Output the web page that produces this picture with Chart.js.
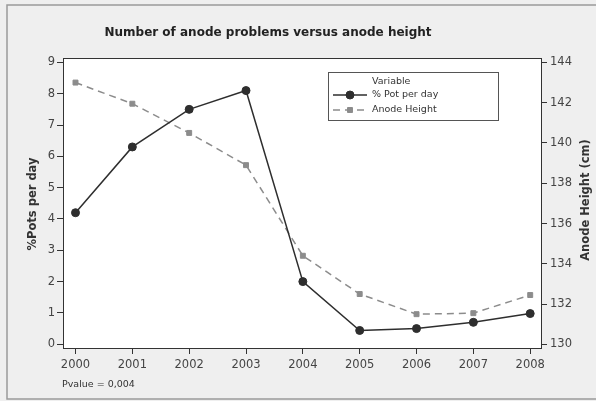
<!DOCTYPE html>
<html>
<head>
<meta charset="utf-8">
<script src="https://cdn.jsdelivr.net/npm/chart.js@4.4.1/dist/chart.umd.min.js"></script>
<style>
  body { margin: 0; background: #fff; }
  #grafico { display: block; }
</style>
</head>
<body>
<canvas id="grafico" width="596" height="401"></canvas>
<script>
// datos
const anios = [2000, 2001, 2002, 2003, 2004, 2005, 2006, 2007, 2008];
const potPorDia = [4.2, 6.3, 7.5, 8.1, 2.0, 0.44, 0.5, 0.7, 0.98];
const alturaAnodo = [143.0, 141.95, 140.5, 138.9, 134.4, 132.5, 131.5, 131.55, 132.45];
const ticksIzq = [0, 1, 2, 3, 4, 5, 6, 7, 8, 9];
const ticksDer = [130, 132, 134, 136, 138, 140, 142, 144];

const tituloTxt = 'Number of anode problems versus anode height';
const pvalueTxt = 'Pvalue = 0,004';

const fuente = 'DejaVu Sans';

// marco, titulo, leyenda y textos de ejes
const decorado = {
  id: 'decorado',
  beforeDraw(chart) {
    const ctx = chart.ctx;
    const a = chart.chartArea;
    ctx.save();
    ctx.fillStyle = '#efefef';
    ctx.fillRect(0, 0, chart.width, chart.height);
    ctx.strokeStyle = '#9a9a9a';
    ctx.lineWidth = 1.5;
    ctx.strokeRect(7, 5, 600, 394);
    ctx.fillStyle = '#ffffff';
    ctx.fillRect(a.left, a.top, a.right - a.left, a.bottom - a.top);
    ctx.restore();
  },
  afterDraw(chart) {
    const ctx = chart.ctx;
    const a = chart.chartArea;
    ctx.save();
    ctx.strokeStyle = '#333';
    ctx.lineWidth = 1;
    ctx.strokeRect(a.left + 0.5, a.top + 0.5, a.right - a.left, a.bottom - a.top);

    ctx.fillStyle = '#222';
    ctx.font = 'bold 12px ' + fuente;
    ctx.textAlign = 'center';
    ctx.textBaseline = 'middle';
    ctx.fillText(tituloTxt, 268, 33);

    // titulos de ejes
    ctx.font = 'bold 11.5px ' + fuente;
    ctx.fillStyle = '#333';
    ctx.save();
    ctx.translate(33, 204);
    ctx.rotate(-Math.PI / 2);
    ctx.fillText('%Pots per day', 0, 0);
    ctx.restore();
    ctx.save();
    ctx.translate(586, 200);
    ctx.rotate(-Math.PI / 2);
    ctx.fillText('Anode Height (cm)', 0, 0);
    ctx.restore();

    // pvalue
    ctx.font = '9.5px ' + fuente;
    ctx.textAlign = 'left';
    ctx.fillStyle = '#333';
    ctx.fillText(pvalueTxt, 62, 385);

    // leyenda
    ctx.fillStyle = '#fff';
    ctx.fillRect(328, 72, 170, 48);
    ctx.strokeStyle = '#555';
    ctx.lineWidth = 1;
    ctx.strokeRect(328.5, 72.5, 170, 48);
    ctx.fillStyle = '#333';
    ctx.font = '9.5px ' + fuente;
    ctx.fillText('Variable', 372, 82);
    const ds = chart.data.datasets;
    const filas = [95, 110];
    ds.forEach((d, i) => {
      const y = filas[i];
      ctx.save();
      ctx.strokeStyle = d.borderColor;
      ctx.lineWidth = d.borderWidth;
      ctx.setLineDash(d.borderDash || []);
      ctx.beginPath();
      ctx.moveTo(333, y);
      ctx.lineTo(367, y);
      ctx.stroke();
      ctx.restore();
      ctx.fillStyle = d.pointBackgroundColor;
      ctx.strokeStyle = d.pointBorderColor;
      Chart.helpers.drawPoint(ctx, {
        pointStyle: d.pointStyle,
        radius: d.pointRadius,
        borderWidth: 1
      }, 350, y);
      ctx.fillStyle = '#333';
      ctx.fillText(d.label, 372, y);
    });
    ctx.restore();
  }
};

const ejeTicks = {
  color: '#444',
  font: { family: fuente, size: 11.5 }
};

new Chart(document.getElementById('grafico'), {
  type: 'line',
  data: {
    datasets: [
      {
        label: '% Pot per day',
        data: anios.map((x, i) => ({ x: x, y: potPorDia[i] })),
        yAxisID: 'y',
        borderColor: '#2e2e2e',
        borderWidth: 1.5,
        pointStyle: 'circle',
        pointRadius: 4,
        pointBorderWidth: 1,
        pointBackgroundColor: '#2e2e2e',
        pointBorderColor: '#2e2e2e',
        tension: 0
      },
      {
        label: 'Anode Height',
        data: anios.map((x, i) => ({ x: x, y: alturaAnodo[i] })),
        yAxisID: 'y1',
        borderColor: '#8c8c8c',
        borderWidth: 1.5,
        borderDash: [7, 5],
        pointStyle: 'rect',
        pointRadius: 3.5,
        pointBorderWidth: 1,
        pointBackgroundColor: '#8c8c8c',
        pointBorderColor: '#8c8c8c',
        tension: 0
      }
    ]
  },
  options: {
    responsive: false,
    devicePixelRatio: 1,
    animation: false,
    layout: { padding: { top: 58, left: 0, right: 0, bottom: 0 } },
    plugins: {
      legend: { display: false },
      title: { display: false },
      tooltip: { enabled: false }
    },
    scales: {
      x: {
        type: 'linear',
        min: 1999.78,
        max: 2008.19,
        afterBuildTicks: s => { s.ticks = anios.map(v => ({ value: v })); },
        afterFit: s => { s.height = 53; },
        ticks: Object.assign({ padding: 4, maxRotation: 0, callback: v => String(v) }, ejeTicks),
        grid: { drawOnChartArea: false, drawTicks: true, tickLength: 6, color: '#333' },
        border: { color: '#333' }
      },
      y: {
        position: 'left',
        min: -0.12,
        max: 9.14,
        afterBuildTicks: s => { s.ticks = ticksIzq.map(v => ({ value: v })); },
        afterFit: s => { s.width = 63; },
        ticks: Object.assign({ padding: 2 }, ejeTicks),
        grid: { drawOnChartArea: false, drawTicks: true, tickLength: 6, color: '#333' },
        border: { color: '#333' }
      },
      y1: {
        position: 'right',
        min: 129.82,
        max: 144.22,
        afterBuildTicks: s => { s.ticks = ticksDer.map(v => ({ value: v })); },
        afterFit: s => { s.width = 55; },
        ticks: Object.assign({ padding: 3 }, ejeTicks),
        grid: { drawOnChartArea: false, drawTicks: true, tickLength: 6, color: '#333' },
        border: { color: '#333' }
      }
    }
  },
  plugins: [decorado]
});
</script>
</body>
</html>
